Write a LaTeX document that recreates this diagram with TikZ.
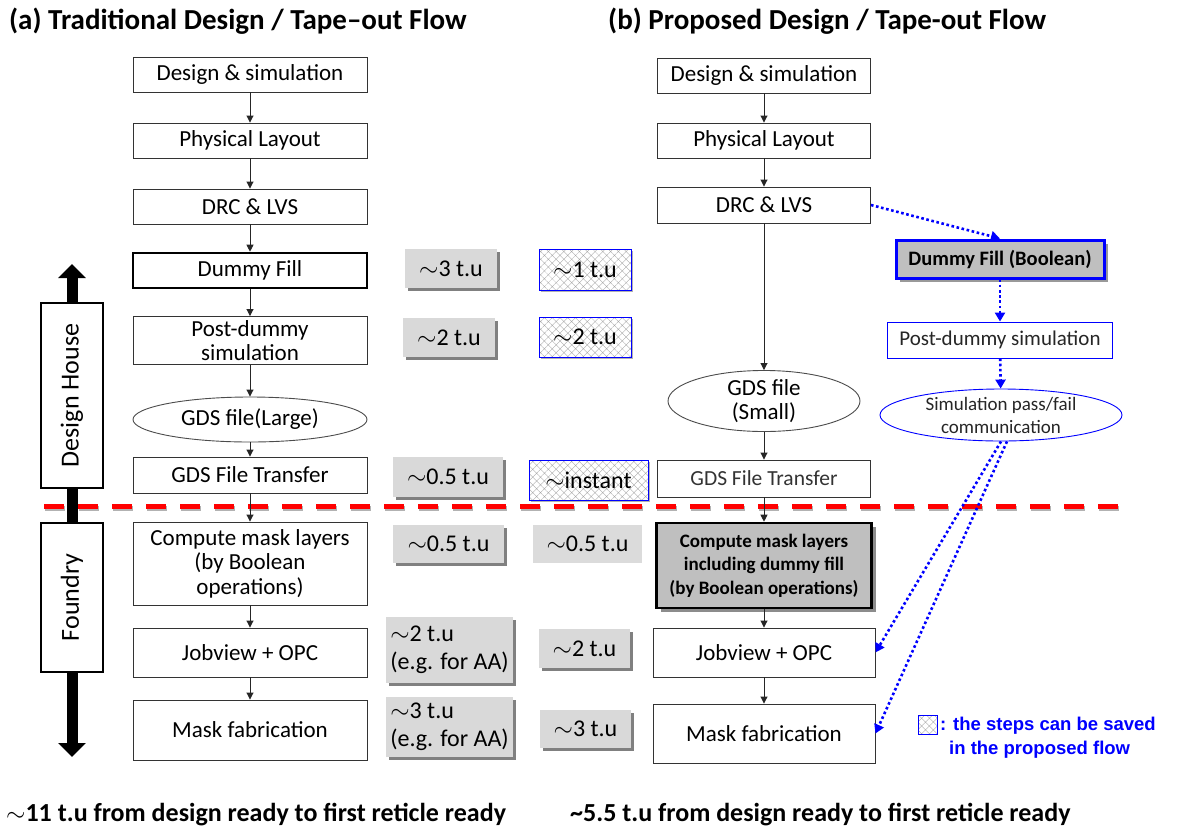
\documentclass[tikz,border=0pt]{standalone}
\usepackage{fontspec}
\setmainfont{Carlito}
\newfontfamily\legendfont{Liberation Sans}
\usetikzlibrary{arrows.meta,shadows,patterns.meta,shapes.geometric}

\tikzset{
  flowbox/.style={draw=black!80, line width=0.9pt, fill=white, inner sep=0pt,
    align=center, font=\fontsize{23}{24}\selectfont},
  keybox/.style={flowbox, draw=black, line width=2.6pt},
  gdsoval/.style={ellipse, draw=black!70, line width=0.9pt, fill=white, inner sep=0pt,
    align=center, font=\fontsize{23}{24}\selectfont},
  timebox/.style={fill=gray!30, inner sep=0pt, align=center,
    font=\fontsize{24}{28}\selectfont,
    drop shadow={shadow xshift=3pt, shadow yshift=-3pt, fill=black!50, opacity=1}},
  flatbox/.style={fill=gray!28, inner sep=0pt, align=center,
    font=\fontsize{24}{28}\selectfont},
  savedbox/.style={draw=blue, line width=0.9pt, inner sep=0pt, align=center,
    font=\fontsize{24}{28}\selectfont,
    preaction={fill=white},
    pattern={Hatch[angle=45,distance=5.5pt,line width=0.35pt]}, pattern color=gray!70},
  savedshadow/.style={
    drop shadow={shadow xshift=2pt, shadow yshift=-2pt, fill=black!30, opacity=1},
    savedbox},
  bluebox/.style={draw=blue, line width=0.9pt, fill=white, inner sep=0pt, align=center},
  flow/.style={draw=black!85, line width=0.9pt, -{Triangle[length=7pt,width=7pt]}},
  blueflow/.style={draw=blue, line width=2.6pt, dash pattern=on 2.6pt off 2.6pt,
    -{Triangle[length=9pt,width=10pt]}},
  sidebox/.style={draw=black, line width=2pt, fill=white, inner sep=0pt, rotate=90,
    font=\fontsize{26}{28}\selectfont},
  heading/.style={anchor=west, inner sep=0pt, font=\fontsize{29}{30}\selectfont\bfseries},
  footer/.style={anchor=west, inner sep=0pt, font=\fontsize{26}{28}\selectfont\bfseries},
  legendtext/.style={anchor=west, inner sep=0pt, text=blue,
    font=\legendfont\fontsize{18.5}{20}\selectfont\bfseries}
}

\begin{document}
\begin{tikzpicture}[x=1pt, y=-1pt]
\useasboundingbox (0,0) rectangle (1187,831);

% headings
\node[heading] (ttlA) at (9,21) {(a) Traditional Design / Tape--out Flow};
\node[heading] (ttlB) at (608,21) {(b) Proposed Design / Tape-out Flow};

% design house / foundry axis
\coordinate (axTop) at (72,264);
\coordinate (axBot) at (72,757);
\draw[line width=11pt, {Triangle[length=14pt,width=27pt]}-{Triangle[length=14pt,width=27pt]}]
  (axTop) -- (axBot);
\node[sidebox, minimum width=185pt, minimum height=62pt] (house) at (72,395.5) {Design House};
\node[sidebox, minimum width=149pt, minimum height=62pt] (foundry) at (72,597.5) {Foundry};

% boundary between design house and foundry
\coordinate (cutL) at (44,508);
\coordinate (cutR) at (1118,508);
\draw[gray!60, line width=5pt, dash pattern=on 20pt off 14pt] ([xshift=1pt]cutL) -- ([xshift=1pt]cutR);
\coordinate (cutL2) at (44,506);
\coordinate (cutR2) at (1118,506);
\draw[red, line width=5pt, dash pattern=on 20pt off 14pt] (cutL2) -- (cutR2);

% traditional flow
\node[flowbox, minimum width=234pt, minimum height=35pt] (La1) at (250,74.5) {Design \& simulation};
\node[flowbox, minimum width=234pt, minimum height=35pt] (La2) at (250,140.5) {Physical Layout};
\node[flowbox, minimum width=234pt, minimum height=35pt] (La3) at (250,206.5) {DRC \& LVS};
\node[keybox, minimum width=234pt, minimum height=35pt] (La4) at (250,270.5) {Dummy Fill};
\node[flowbox, minimum width=234pt, minimum height=48pt] (La5) at (250,340.5) {Post-dummy\\simulation};
\node[gdsoval, minimum width=234pt, minimum height=45pt] (La6) at (250,419.5) {GDS file(Large)};
\node[flowbox, minimum width=234pt, minimum height=36pt] (La7) at (250,475) {GDS File Transfer};
\node[flowbox, minimum width=234pt, minimum height=83pt, font=\fontsize{23}{24.5}\selectfont] (La8) at (250,563.5)
  {Compute mask layers\\(by Boolean\\operations)};
\node[flowbox, minimum width=234pt, minimum height=49pt] (La9) at (250,652.5) {Jobview + OPC};
\node[flowbox, minimum width=234pt, minimum height=60pt] (La10) at (250,730) {Mask fabrication};

\foreach \a/\b in {La1/La2,La2/La3,La3/La4,La4/La5,La5/La6,La6/La7,La7/La8,La8/La9,La9/La10}
  \draw[flow] (\a) -- (\b);

% time spent per step, traditional flow
\node[timebox, minimum width=92pt, minimum height=39pt] (T1) at (451,268.5) {$\sim$3 t.u};
\node[timebox, minimum width=92pt, minimum height=39pt] (T2) at (449,337.5) {$\sim$2 t.u};
\node[timebox, minimum width=110pt, minimum height=40pt] (T3) at (448,477) {$\sim$0.5 t.u};
\node[timebox, minimum width=111pt, minimum height=38pt] (T4) at (448.5,544) {$\sim$0.5 t.u};
\node[timebox, minimum width=127pt, minimum height=66pt, align=left] (T5) at (449.5,650)
  {$\sim$2 t.u\\(e.g. for AA)};
\node[timebox, minimum width=127pt, minimum height=60pt, align=left] (T6) at (449.5,727)
  {$\sim$3 t.u\\(e.g. for AA)};

% time spent per step, proposed flow
\node[savedshadow, minimum width=92pt, minimum height=41pt] (H1) at (585,269.5) {$\sim$1 t.u};
\node[savedshadow, minimum width=92pt, minimum height=40pt] (H2) at (585,337) {$\sim$2 t.u};
\node[savedshadow, minimum width=119pt, minimum height=40pt] (H3) at (588.5,480) {$\sim$instant};
\node[flatbox, minimum width=109pt, minimum height=38pt] (P4) at (587.5,544) {$\sim$0.5 t.u};
\node[timebox, minimum width=91pt, minimum height=39pt] (P5) at (584.5,648.5) {$\sim$2 t.u};
\node[timebox, minimum width=91pt, minimum height=38pt] (P6) at (585.5,729) {$\sim$3 t.u};

% proposed flow
\node[flowbox, minimum width=213pt, minimum height=35pt] (Ra1) at (764,75.5) {Design \& simulation};
\node[flowbox, minimum width=213pt, minimum height=35pt] (Ra2) at (764,140.5) {Physical Layout};
\node[flowbox, minimum width=213pt, minimum height=36pt] (Ra3) at (764,205) {DRC \& LVS};
\node[gdsoval, minimum width=192pt, minimum height=46pt, font=\fontsize{23}{24}\selectfont] (Ra4) at (764,401)
  {GDS file\\(Small)};
\node[flowbox, minimum width=213pt, minimum height=37pt, font=\fontsize{21.5}{22}\selectfont, text=black!80]
  (Ra5) at (764,478.5) {GDS File Transfer};
\node[keybox, fill=gray!50, minimum width=215pt, minimum height=85pt,
  font=\fontsize{19}{23.5}\selectfont\bfseries,
  drop shadow={shadow xshift=4pt, shadow yshift=-4pt, fill=black!45, opacity=1}]
  (Ra6) at (764,565.5) {Compute mask layers\\including dummy fill\\(by Boolean operations)};
\node[flowbox, minimum width=222pt, minimum height=49pt] (Ra7) at (764,652.5) {Jobview + OPC};
\node[flowbox, minimum width=222pt, minimum height=59pt] (Ra8) at (764,733.5) {Mask fabrication};

\foreach \a/\b in {Ra1/Ra2,Ra2/Ra3,Ra3/Ra4,Ra4/Ra5,Ra5/Ra6,Ra6/Ra7,Ra7/Ra8}
  \draw[flow] (\a) -- (\b);

% dummy fill branch done on the design side
\node[bluebox, draw=blue, line width=3pt, fill=gray!50, minimum width=208pt, minimum height=38pt,
  font=\fontsize{20.5}{22}\selectfont\bfseries,
  drop shadow={shadow xshift=4pt, shadow yshift=-4pt, fill=black!40, opacity=1}]
  (Rb1) at (1000,259) {Dummy Fill (Boolean)};
\node[bluebox, minimum width=225pt, minimum height=36pt, font=\fontsize{21}{22}\selectfont, text=black!85]
  (Rb2) at (1000,340) {Post-dummy simulation};
\node[bluebox, ellipse, minimum width=242pt, minimum height=52pt, font=\fontsize{19}{23}\selectfont, text=black!85]
  (Rb3) at (1001,415) {Simulation pass/fail\\communication};

\draw[blueflow] (Ra3.east) -- (Rb1.north);
\draw[blueflow] (Rb1) -- (Rb2);
\draw[blueflow] (Rb2) -- (Rb3);
\draw[blueflow] (Rb3.south) -- (Ra7.east);
\draw[blueflow] ([xshift=6pt]Rb3.south) -- (Ra8.east);

% legend
\node[savedbox, minimum width=19pt, minimum height=19pt] (key) at (927.5,724.5) {};
\node[legendtext] (keyA) at (940,726) {: the steps can be saved};
\node[legendtext] (keyB) at (949,750) {in the proposed flow};

% totals
\node[footer] (sumA) at (6,815) {$\sim$11 t.u from design ready to first reticle ready};
\node[footer] (sumB) at (570,815) {\textasciitilde5.5 t.u from design ready to first reticle ready};
\end{tikzpicture}
\end{document}
